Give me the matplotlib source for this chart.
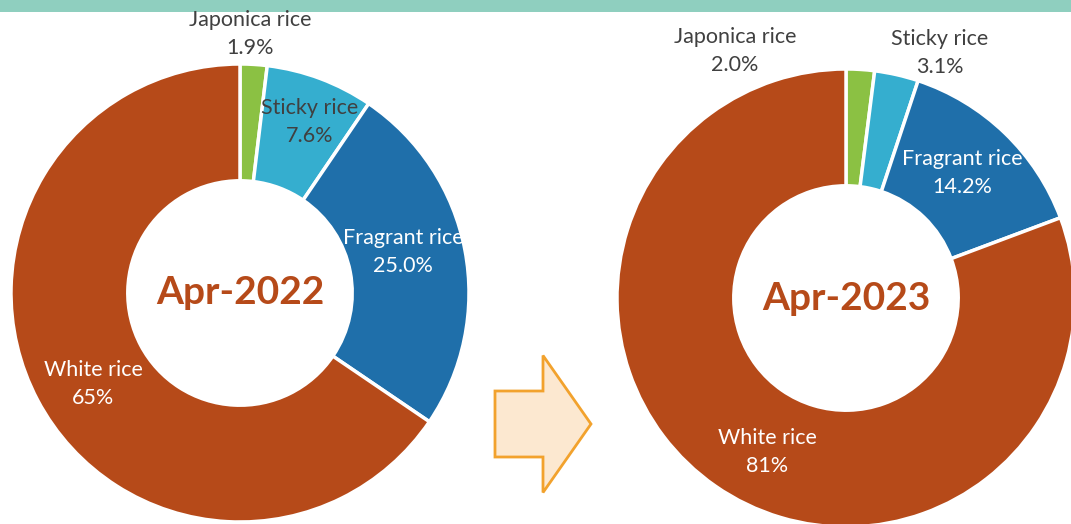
import numpy as np
import matplotlib
matplotlib.use("Agg")
import matplotlib.pyplot as plt
from matplotlib.patches import Rectangle, FancyArrow

plt.rcParams['font.family'] = ['Lato', 'DejaVu Sans']

# data
categories = ["Japonica rice", "Sticky rice", "Fragrant rice", "White rice"]
share_2022 = [1.9, 7.6, 25.0, 65.5]
share_2023 = [2.0, 3.1, 14.2, 80.7]
pct_2022 = ["1.9%", "7.6%", "25.0%", "65%"]
pct_2023 = ["2.0%", "3.1%", "14.2%", "81%"]
titles = ["Apr-2022", "Apr-2023"]
colors = ["#8BC143", "#35AECF", "#1F6FAA", "#B64A19"]

W, H = 1071, 524
fig = plt.figure(figsize=(W / 100, H / 100), dpi=100)
ax = fig.add_axes([0, 0, 1, 1])

def Y(y):
    # image row -> data y (y axis points up)
    return H - y

# layout: donut centres / radius, and label anchors in image pixels
centres = [(240, 293), (846, 298)]
radius = 229
hole = 0.49
label_pos = [
    [(250, 34), (310, 122), (403, 252), (93, 384)],
    [(735, 51), (940, 53), (962, 173), (767, 452)],
]
label_col = ["#404040", "#404040", "white", "white"]

for k, (vals, pcts) in enumerate([(share_2022, pct_2022), (share_2023, pct_2023)]):
    cx, cy = centres[k]
    ax.pie(vals, colors=colors, startangle=90, counterclock=False,
           center=(cx, Y(cy)), radius=radius,
           wedgeprops=dict(width=radius * (1 - hole), edgecolor="white", linewidth=2.5))
    ax.text(cx, Y(cy), titles[k], ha="center", va="center", fontsize=28,
            fontweight="bold", color="#B64A19")
    for i, cat in enumerate(categories):
        lx, ly = label_pos[k][i]
        ax.text(lx, Y(ly), cat + "\n" + pcts[i], ha="center", va="center",
                fontsize=15.5, color=label_col[i], linespacing=1.55)

# arrow between the two donuts
ax.add_patch(FancyArrow(495, Y(424), 96, 0, width=66, head_width=137, head_length=48,
                        length_includes_head=True, facecolor="#FCE8D0",
                        edgecolor="#F2A22D", linewidth=2))

# teal band at top
ax.add_patch(Rectangle((0, Y(12)), W, 14, facecolor="#8FCFBF", edgecolor="none"))

ax.set_xlim(0, W)
ax.set_ylim(0, H)
ax.set_aspect("auto")
ax.axis("off")

fig.savefig("out.png", dpi=100)
